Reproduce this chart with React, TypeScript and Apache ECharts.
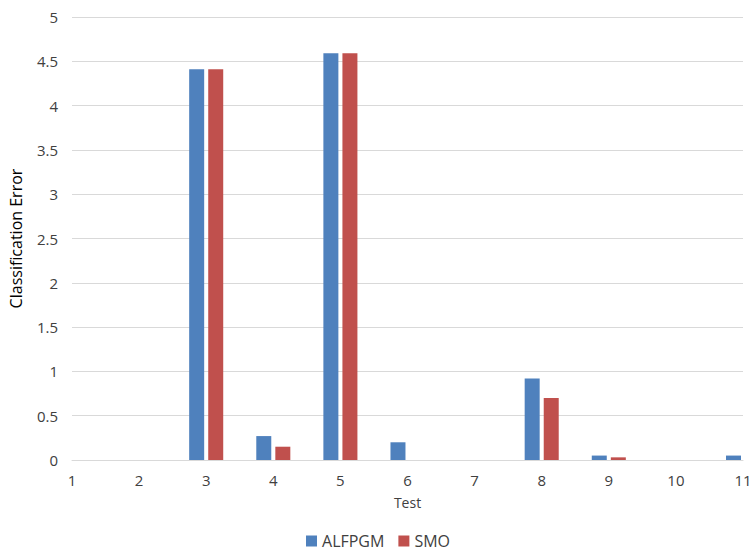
import React, { useEffect, useRef } from "react";
import * as echarts from "echarts";

const categories = ["1", "2", "3", "4", "5", "6", "7", "8", "9", "10", "11"];
const alfpgmValues = [0, 0, 4.41, 0.27, 4.59, 0.2, 0, 0.92, 0.05, 0, 0.05];
const smoValues = [0, 0, 4.41, 0.15, 4.59, 0, 0, 0.7, 0.03, 0, 0];
const seriesNames = ["ALFPGM", "SMO"];

const FONT = "'Open Sans', 'Liberation Sans', sans-serif";

export default function App() {
  const ref = useRef<HTMLDivElement>(null);
  useEffect(() => {
    if (!ref.current) return;
    const chart = echarts.init(ref.current, null, { renderer: "svg" });
    chart.setOption({
      animation: false,
      backgroundColor: "#ffffff",
      textStyle: { fontFamily: FONT },
      grid: { left: 66, right: 13, top: 17, bottom: 93, containLabel: false },
      legend: {
        data: seriesNames,
        top: 528,
        left: "center",
        itemWidth: 11,
        itemHeight: 11,
        itemGap: 14,
        icon: "rect",
        textStyle: { fontSize: 16, color: "#404040", fontFamily: FONT },
      },
      xAxis: {
        type: "category",
        data: categories,
        boundaryGap: false,
        name: "Test",
        nameLocation: "middle",
        nameGap: 35,
        nameTextStyle: { fontSize: 14, color: "#404040", fontFamily: FONT },
        axisLine: { show: true, lineStyle: { color: "#d9d9d9", width: 1 } },
        axisTick: { show: false },
        axisLabel: { fontSize: 15, color: "#404040", margin: 12, fontFamily: FONT },
        splitLine: { show: false },
      },
      yAxis: {
        type: "value",
        min: 0,
        max: 5,
        interval: 0.5,
        name: "Classification Error",
        nameLocation: "middle",
        nameGap: 48,
        nameTextStyle: { fontSize: 16, color: "#000000", fontFamily: FONT },
        axisLine: { show: false },
        axisTick: { show: false },
        axisLabel: { fontSize: 15, color: "#404040", margin: 14, fontFamily: FONT },
        splitLine: { show: true, lineStyle: { color: "#d9d9d9", width: 1 } },
      },
      series: [
        {
          name: seriesNames[0],
          type: "bar",
          data: alfpgmValues,
          barWidth: 15,
          barGap: "27%",
          itemStyle: { color: "#4F81BD" },
        },
        {
          name: seriesNames[1],
          type: "bar",
          data: smoValues,
          barWidth: 15,
          barGap: "27%",
          itemStyle: { color: "#C0504D" },
        },
      ],
    });
    return () => chart.dispose();
  }, []);
  return (
    <div
      ref={ref}
      style={{ position: "fixed", left: 0, top: 0, width: 756, height: 553 }}
    />
  );
}
